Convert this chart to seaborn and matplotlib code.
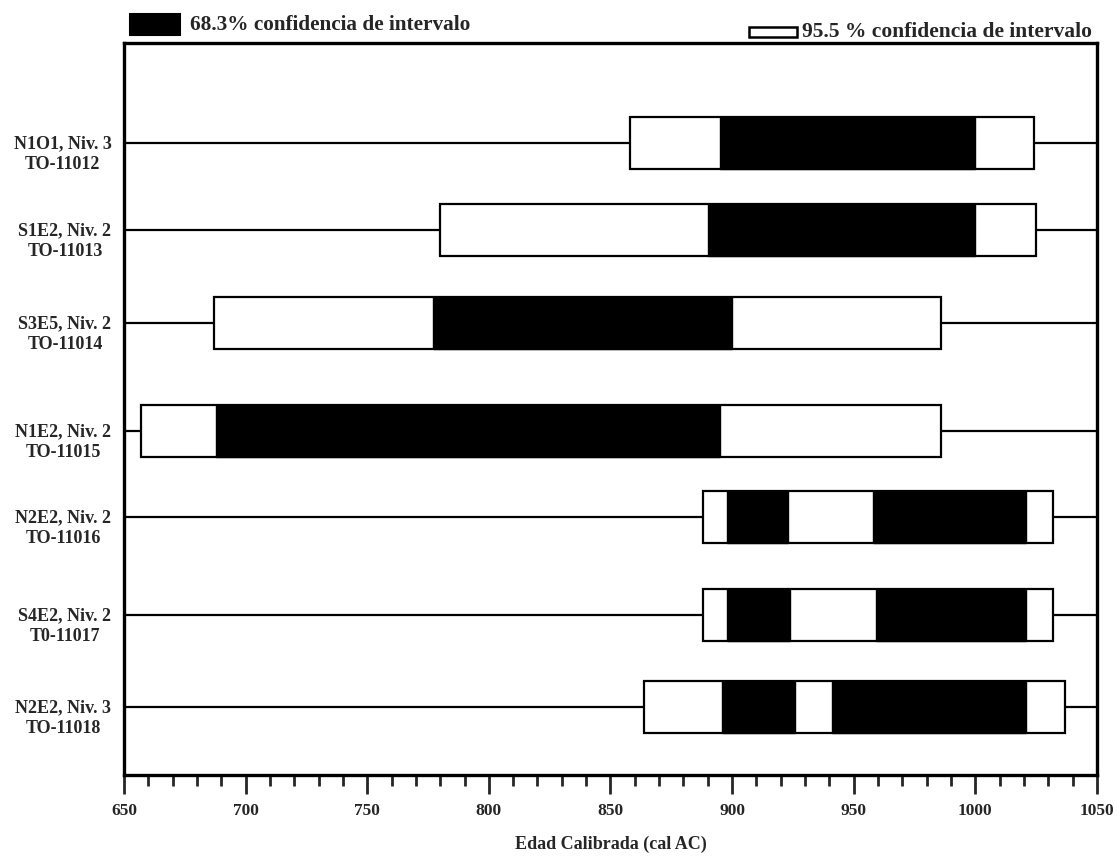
import matplotlib
matplotlib.use("Agg")
import matplotlib.pyplot as plt
import matplotlib.transforms as mtransforms
from matplotlib.patches import Rectangle
import seaborn as sns
import pandas as pd

# Sample labels (top to bottom)
labels = [
  "N1O1, Niv. 3\nTO-11012",
  "S1E2, Niv. 2\nTO-11013",
  "S3E5, Niv. 2\nTO-11014",
  "N1E2, Niv. 2\nTO-11015",
  "N2E2, Niv. 2\nTO-11016",
  "S4E2, Niv. 2\nT0-11017",
  "N2E2, Niv. 3\nTO-11018",
]
# row centres (rows are not evenly spaced in the original)
row_pos = [1.00, 1.87, 2.80, 3.88, 4.74, 5.72, 6.64]

# 95.5 % intervals (cal AC)
ci95_start = [858, 780, 687, 657, 888, 888, 864]
ci95_end = [1024, 1025, 986, 986, 1032, 1032, 1037]

# 68.3 % intervals, one or two pieces per sample
ci68 = [
  [(895, 1000)],
  [(890, 1000)],
  [(777, 900)],
  [(688, 895)],
  [(898, 923), (958, 1021)],
  [(898, 924), (959, 1021)],
  [(896, 926), (941, 1021)],
]

major_ticks = [650, 700, 750, 800, 850, 900, 950, 1000, 1050]

sns.set_theme(style="white")
plt.rcParams["font.family"] = ["Liberation Serif", "DejaVu Serif"]
plt.rcParams["font.weight"] = "bold"

fig = plt.figure(figsize=(11.17, 8.56), dpi=100)
ax = fig.add_axes([0.111, 0.0946, 0.871, 0.855])

# 95 % boxes as a table, drawn with barh
df95 = pd.DataFrame({"row": row_pos, "start": ci95_start, "end": ci95_end})
for y in df95["row"]:
  ax.axhline(y, color="black", lw=1.6, zorder=1)
ax.barh(df95["row"], df95["end"] - df95["start"], left=df95["start"], height=0.52,
        color="white", edgecolor="black", linewidth=1.6, zorder=2)

for y, pieces in zip(row_pos, ci68):
  for a, b in pieces:
    ax.barh(y, b - a, left=a, height=0.52, color="black", edgecolor="black",
            linewidth=1.0, zorder=3)

ax.set_xlim(650, 1050)
ax.set_ylim(7.32, 0)
ax.set_xticks(major_ticks)
ax.set_xticks(range(650, 1051, 10), minor=True)
ax.set_xticklabels([str(t) for t in major_ticks], fontsize=12.5, fontweight="bold")
ax.tick_params(axis="x", which="major", direction="out", length=14, width=2, bottom=True, pad=6)
ax.tick_params(axis="x", which="minor", direction="out", length=8, width=2, bottom=True)

ax.set_yticks(row_pos)
ax.set_yticklabels(labels, fontsize=13, fontweight="bold", multialignment="center",
                   linespacing=1.3)
ax.tick_params(axis="y", length=0, pad=9)
shift = mtransforms.ScaledTranslation(0, -5 / 72, fig.dpi_scale_trans)
for lbl in ax.get_yticklabels():
  lbl.set_transform(lbl.get_transform() + shift)

for side in ["top", "bottom", "left", "right"]:
  ax.spines[side].set_visible(True)
  ax.spines[side].set_color("black")
  ax.spines[side].set_linewidth(2.4)

ax.set_xlabel("Edad Calibrada (cal AC)", fontsize=13, fontweight="bold", labelpad=12)

# legend boxes above the plot
fig.patches.append(Rectangle((0.1164, 0.9591), 0.0448, 0.0245, transform=fig.transFigure,
                             facecolor="black", edgecolor="black", lw=1.5))
fig.text(0.170, 0.971, "68.3% confidencia de intervalo", fontsize=15.3, fontweight="bold",
         va="center", ha="left")
fig.patches.append(Rectangle((0.6705, 0.9568), 0.043, 0.0117, transform=fig.transFigure,
                             facecolor="white", edgecolor="black", lw=1.8))
fig.text(0.718, 0.9626, "95.5 % confidencia de intervalo", fontsize=15.5, fontweight="bold",
         va="center", ha="left")

fig.savefig("out.png", dpi=100)
